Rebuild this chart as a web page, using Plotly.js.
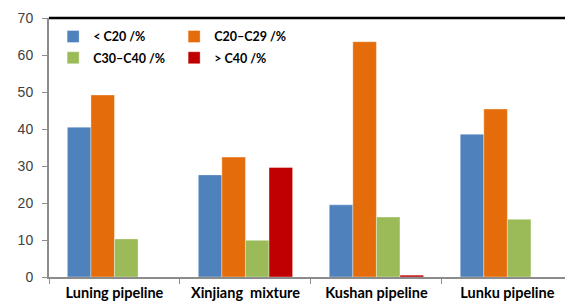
<!DOCTYPE html>
<html>
<head>
<meta charset="utf-8">
<script src="https://cdn.plot.ly/plotly-3.0.1.min.js"></script>
<style>html,body{margin:0;padding:0;background:#fff;}#chart{width:565px;height:303px;}</style>
</head>
<body>
<div id="chart"></div>
<script>
const categories = ["Luning pipeline", "Xinjiang  mixture", "Kushan pipeline", "Lunku pipeline"];
const seriesNames = ["< C20 /%", "C20\u2013C29 /%", "C30\u2013C40 /%", "> C40 /%"];
const lt20 = [40.5, 27.6, 19.5, 38.6];
const c20to29 = [49.2, 32.4, 63.6, 45.4];
const c30to40 = [10.3, 9.9, 16.2, 15.6];
const gt40 = [0, 29.6, 0.5, 0];
const yTicks = [0, 10, 20, 30, 40, 50, 60, 70];

const colors = ["#4F81BD", "#E46C0A", "#9BBB59", "#C00000"];
const values = [lt20, c20to29, c30to40, gt40];
const legendIds = ["legend", "legend", "legend2", "legend2"];

const traces = values.map((v, i) => ({
  type: "bar",
  name: seriesNames[i],
  x: categories,
  y: v,
  legend: legendIds[i],
  marker: {color: colors[i], line: {color: "rgba(255,255,255,0.6)", width: 0.6}},
  hoverinfo: "skip"
}));

const legendFont = {family: "Lato, 'Liberation Sans', sans-serif", size: 12.5, color: "#000", weight: "bold"};

const layout = {
  width: 565, height: 303,
  margin: {l: 49, r: 0, t: 18, b: 26},
  paper_bgcolor: "#fff", plot_bgcolor: "#fff",
  barmode: "group", bargap: 0.28, bargroupgap: 0,
  showlegend: true,
  legend: {orientation: "h", x: 0.008, y: 0.985, xanchor: "left", yanchor: "top",
           entrywidth: 76, font: legendFont, bgcolor: "rgba(0,0,0,0)", traceorder: "normal",
           itemwidth: 30},
  legend2: {orientation: "h", x: 0.008, y: 0.903, xanchor: "left", yanchor: "top",
            entrywidth: 76, font: legendFont, bgcolor: "rgba(0,0,0,0)", traceorder: "normal",
            itemwidth: 30},
  xaxis: {
    type: "category", range: [-0.5, 3.44],
    showline: true, linecolor: "#8c8c8c", linewidth: 2,
    ticks: "outside", tickson: "boundaries", ticklen: 5, tickcolor: "#8c8c8c", tickwidth: 1,
    ticklabelstandoff: 2,
    tickfont: {family: "Lato, 'Liberation Sans', sans-serif", size: 14.5, color: "#000", weight: "bold"},
    showgrid: false, zeroline: false, fixedrange: true
  },
  yaxis: {
    range: [0, 70], tickvals: yTicks, ticktext: yTicks.map(String),
    showline: true, linecolor: "#8c8c8c", linewidth: 2,
    ticks: "outside", ticklen: 5, tickcolor: "#8c8c8c", tickwidth: 1,
    ticklabelstandoff: 6,
    tickfont: {family: "'Liberation Sans', Arial, sans-serif", size: 14, color: "#404040"},
    showgrid: false, zeroline: false, fixedrange: true
  },
  shapes: [{type: "line", xref: "paper", yref: "paper", x0: 0, x1: 1, y0: 1, y1: 1,
            line: {color: "#000", width: 2.5}}]
};

Plotly.newPlot("chart", traces, layout, {staticPlot: true, displayModeBar: false});
</script>
</body>
</html>
